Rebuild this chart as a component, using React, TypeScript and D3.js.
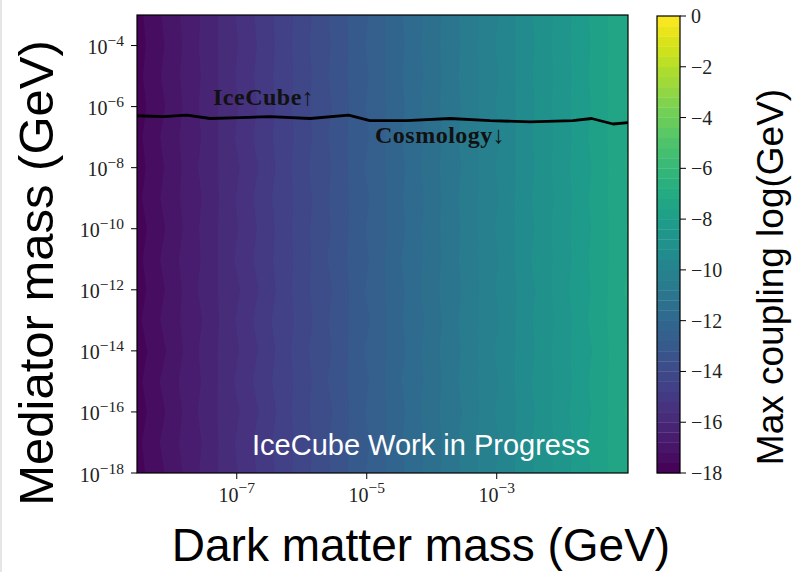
import React from 'react';
import * as d3 from 'd3';

// Sample positions of the coupling grid (log10 of mass in GeV)
const dmMassLog = [-8.5, -8, -7.5, -7, -6.5, -6, -5.5, -5, -4.5, -4, -3.5, -3, -2.5, -2, -1.5, -1];
const mediatorMassLog = [-18, -17, -16, -15, -14, -13, -12, -11, -10, -9, -8, -7, -6, -5, -4, -3];

// Max coupling log10(GeV); one row per mediator mass (bottom row first)
const couplingGrid = [
  [-17.72, -17.05, -16.28, -15.62, -14.93, -14.18, -13.52, -12.77, -12.13, -11.38, -10.72, -9.97, -9.31, -8.58, -7.93, -7.18],
  [-17.66, -16.93, -16.35, -15.55, -14.85, -14.25, -13.45, -12.87, -12.05, -11.45, -10.64, -10.06, -9.25, -8.65, -7.85, -7.24],
  [-17.76, -17.06, -16.23, -15.66, -14.97, -14.14, -13.57, -12.76, -12.15, -11.34, -10.76, -9.96, -9.35, -8.54, -7.94, -7.15],
  [-17.67, -16.92, -16.34, -15.53, -14.85, -14.24, -13.44, -12.85, -12.04, -11.44, -10.66, -10.05, -9.24, -8.64, -7.86, -7.25],
  [-17.77, -17.08, -16.25, -15.65, -14.95, -14.13, -13.55, -12.74, -12.16, -11.35, -10.73, -9.94, -9.34, -8.55, -7.96, -7.17],
  [-17.65, -16.95, -16.36, -15.56, -14.84, -14.26, -13.46, -12.87, -12.06, -11.46, -10.65, -10.07, -9.26, -8.66, -7.84, -7.23],
  [-17.75, -17.05, -16.24, -15.67, -14.96, -14.15, -13.56, -12.76, -12.13, -11.33, -10.75, -9.97, -9.36, -8.53, -7.93, -7.14],
  [-17.68, -16.93, -16.33, -15.54, -14.87, -14.23, -13.43, -12.85, -12.03, -11.43, -10.67, -10.04, -9.23, -8.63, -7.87, -7.26],
  [-17.76, -17.06, -16.27, -15.63, -14.93, -14.17, -13.53, -12.78, -12.15, -11.37, -10.72, -9.95, -9.32, -8.56, -7.94, -7.18],
  [-17.66, -16.95, -16.35, -15.57, -14.85, -14.24, -13.47, -12.86, -12.07, -11.44, -10.65, -10.05, -9.25, -8.65, -7.86, -7.24],
  [-17.74, -17.03, -16.25, -15.66, -14.95, -14.14, -13.54, -12.75, -12.14, -11.35, -10.74, -9.96, -9.34, -8.55, -7.95, -7.16],
  [-17.67, -16.94, -16.34, -15.55, -14.86, -14.25, -13.45, -12.85, -12.05, -11.45, -10.66, -10.06, -9.26, -8.64, -7.85, -7.23],
  [-17.75, -17.06, -16.26, -15.64, -14.94, -14.16, -13.55, -12.77, -12.13, -11.36, -10.73, -9.97, -9.33, -8.57, -7.93, -7.17],
  [-17.68, -16.96, -16.33, -15.56, -14.87, -14.23, -13.46, -12.84, -12.06, -11.43, -10.67, -10.04, -9.27, -8.63, -7.87, -7.23],
  [-17.74, -17.04, -16.27, -15.63, -14.93, -14.17, -13.53, -12.77, -12.12, -11.37, -10.72, -9.97, -9.32, -8.57, -7.92, -7.18],
  [-17.69, -16.97, -16.32, -15.57, -14.88, -14.22, -13.47, -12.83, -12.07, -11.42, -10.68, -10.03, -9.28, -8.62, -7.88, -7.22],
];

// Boundary between the IceCube and cosmology regions (log10 GeV)
const boundaryDmLog = [-8.54, -8.13, -7.77, -7.41, -6.95, -6.49, -5.87, -5.28, -4.95, -4.39, -3.72, -3.1, -2.49, -1.83, -1.54, -1.21, -0.97];
const boundaryMedLog = [-6.3, -6.33, -6.28, -6.39, -6.36, -6.33, -6.39, -6.28, -6.46, -6.46, -6.39, -6.46, -6.5, -6.46, -6.39, -6.57, -6.52];

// Filled contour levels and colorbar ticks
const levelMin = -18;
const levelMax = 0;
const levelCount = 45;
const colorbarTicks = [0, -2, -4, -6, -8, -10, -12, -14, -16, -18];
const xTickExponents = [-7, -5, -3];
const yTickExponents = [-18, -16, -14, -12, -10, -8, -6, -4];

const W = 794;
const H = 572;
const plot = { left: 137, right: 628, top: 15, bottom: 473 };
const cbar = { left: 657, right: 680, top: 16, bottom: 473 };

const serif = '"Liberation Serif", "DejaVu Serif", serif';
const sans = '"Liberation Sans", Arial, sans-serif';

const minus = (v: number) => (v < 0 ? '\u2212' + Math.abs(v) : String(v));

export default function App() {
  const xScale = d3.scaleLog().domain([10 ** -8.535, 10 ** -0.98]).range([plot.left, plot.right]);
  const yScale = d3.scaleLog().domain([1e-18, 1e-3]).range([plot.bottom, plot.top]);
  const cScale = d3.scaleLinear().domain([levelMin, levelMax]).range([cbar.bottom, cbar.top]);

  const levels = d3.range(levelCount + 1).map((i) => levelMin + (i * (levelMax - levelMin)) / levelCount);
  const bandColor = (lo: number, hi: number) => d3.interpolateViridis(((lo + hi) / 2 - levelMin) / (levelMax - levelMin));

  const nx = dmMassLog.length;
  const ny = mediatorMassLog.length;
  const gridX = d3.scaleLinear().domain([0.5, nx - 0.5]).range([dmMassLog[0], dmMassLog[nx - 1]]);
  const gridY = d3.scaleLinear().domain([0.5, ny - 0.5]).range([mediatorMassLog[0], mediatorMassLog[ny - 1]]);
  const values = couplingGrid.flat();
  const contours = d3.contours().size([nx, ny]).thresholds(levels.slice(0, -1))(values);
  const projection = d3.geoTransform({
    point(x: number, y: number) {
      (this as any).stream.point(xScale(10 ** gridX(x)), yScale(10 ** gridY(y)));
    },
  });
  const pathGen = d3.geoPath(projection);

  const boundary = d3
    .line<number>()
    .x((_, i) => xScale(10 ** boundaryDmLog[i]))
    .y((_, i) => yScale(10 ** boundaryMedLog[i]))(boundaryDmLog.map((_, i) => i));

  return (
    <svg width={W} height={H} style={{ position: 'absolute', left: 0, top: 0, background: '#fff' }}>
      <line x1={1} x2={1} y1={0} y2={H} stroke="#dcdcdc" strokeWidth={1.5} />
      <defs>
        <clipPath id="plot-clip">
          <rect x={plot.left} y={plot.top} width={plot.right - plot.left} height={plot.bottom - plot.top} />
        </clipPath>
      </defs>

      <g clipPath="url(#plot-clip)">
        {contours.map((c, i) => (
          <path key={i} d={pathGen(c as any) || ''} fill={bandColor(levels[i], levels[i + 1])} stroke="none" />
        ))}
        <path d={boundary || ''} fill="none" stroke="#000" strokeWidth={2.8} strokeLinejoin="round" />
      </g>

      <rect
        x={plot.left}
        y={plot.top}
        width={plot.right - plot.left}
        height={plot.bottom - plot.top}
        fill="none"
        stroke="#000"
        strokeWidth={1.2}
      />

      {/* region labels */}
      <text x={213} y={105} fontFamily={serif} fontWeight="bold" fontSize={24} letterSpacing={0.5} fill="#111">
        IceCube↑
      </text>
      <text x={375} y={143} fontFamily={serif} fontWeight="bold" fontSize={24} letterSpacing={0.5} fill="#111">
        Cosmology↓
      </text>
      <text x={252} y={455} fontFamily={sans} fontSize={29} fill="#fff">
        IceCube Work in Progress
      </text>

      {/* x axis */}
      {xTickExponents.map((e) => {
        const x = xScale(10 ** e);
        return (
          <g key={e}>
            <line x1={x} x2={x} y1={plot.bottom} y2={plot.bottom + 6} stroke="#000" strokeWidth={1} />
            <text x={x} y={502} textAnchor="middle" fontFamily={serif} fontSize={20} fill="#222">
              <tspan>10</tspan>
              <tspan dy={-9} fontSize={15.5}>
                {minus(e)}
              </tspan>
            </text>
          </g>
        );
      })}

      {/* y axis */}
      {yTickExponents.map((e) => {
        const y = yScale(10 ** e);
        return (
          <g key={e}>
            <line x1={plot.left - 6} x2={plot.left} y1={y} y2={y} stroke="#000" strokeWidth={1} />
            <text x={124} y={y + 8.5} textAnchor="end" fontFamily={serif} fontSize={20} fill="#222">
              <tspan>10</tspan>
              <tspan dy={-8} fontSize={15.5}>
                {minus(e)}
              </tspan>
            </text>
          </g>
        );
      })}

      <text
        transform={`translate(53,273) rotate(-90)`}
        textAnchor="middle"
        fontFamily={sans}
        fontSize={49}
        fill="#000"
      >
        Mediator mass (GeV)
      </text>
      <text x={421} y={561} textAnchor="middle" fontFamily={sans} fontSize={46} fill="#000">
        Dark matter mass (GeV)
      </text>

      {/* colorbar */}
      {levels.slice(0, -1).map((lo, i) => {
        const hi = levels[i + 1];
        return (
          <rect
            key={i}
            x={cbar.left}
            y={cScale(hi)}
            width={cbar.right - cbar.left}
            height={cScale(lo) - cScale(hi) + 0.3}
            fill={bandColor(lo, hi)}
          />
        );
      })}
      <rect
        x={cbar.left}
        y={cbar.top}
        width={cbar.right - cbar.left}
        height={cbar.bottom - cbar.top}
        fill="none"
        stroke="#000"
        strokeWidth={1.2}
      />
      {colorbarTicks.map((t) => {
        const y = cScale(t);
        return (
          <g key={t}>
            <line x1={cbar.right} x2={cbar.right + 6} y1={y} y2={y} stroke="#000" strokeWidth={1} />
            <text x={691} y={y + 7} fontFamily={serif} fontSize={20} fill="#222">
              {minus(t)}
            </text>
          </g>
        );
      })}
      <text
        transform={`translate(783,277) rotate(-90)`}
        textAnchor="middle"
        fontFamily={sans}
        fontSize={37}
        fill="#000"
      >
        Max coupling log(GeV)
      </text>
    </svg>
  );
}
